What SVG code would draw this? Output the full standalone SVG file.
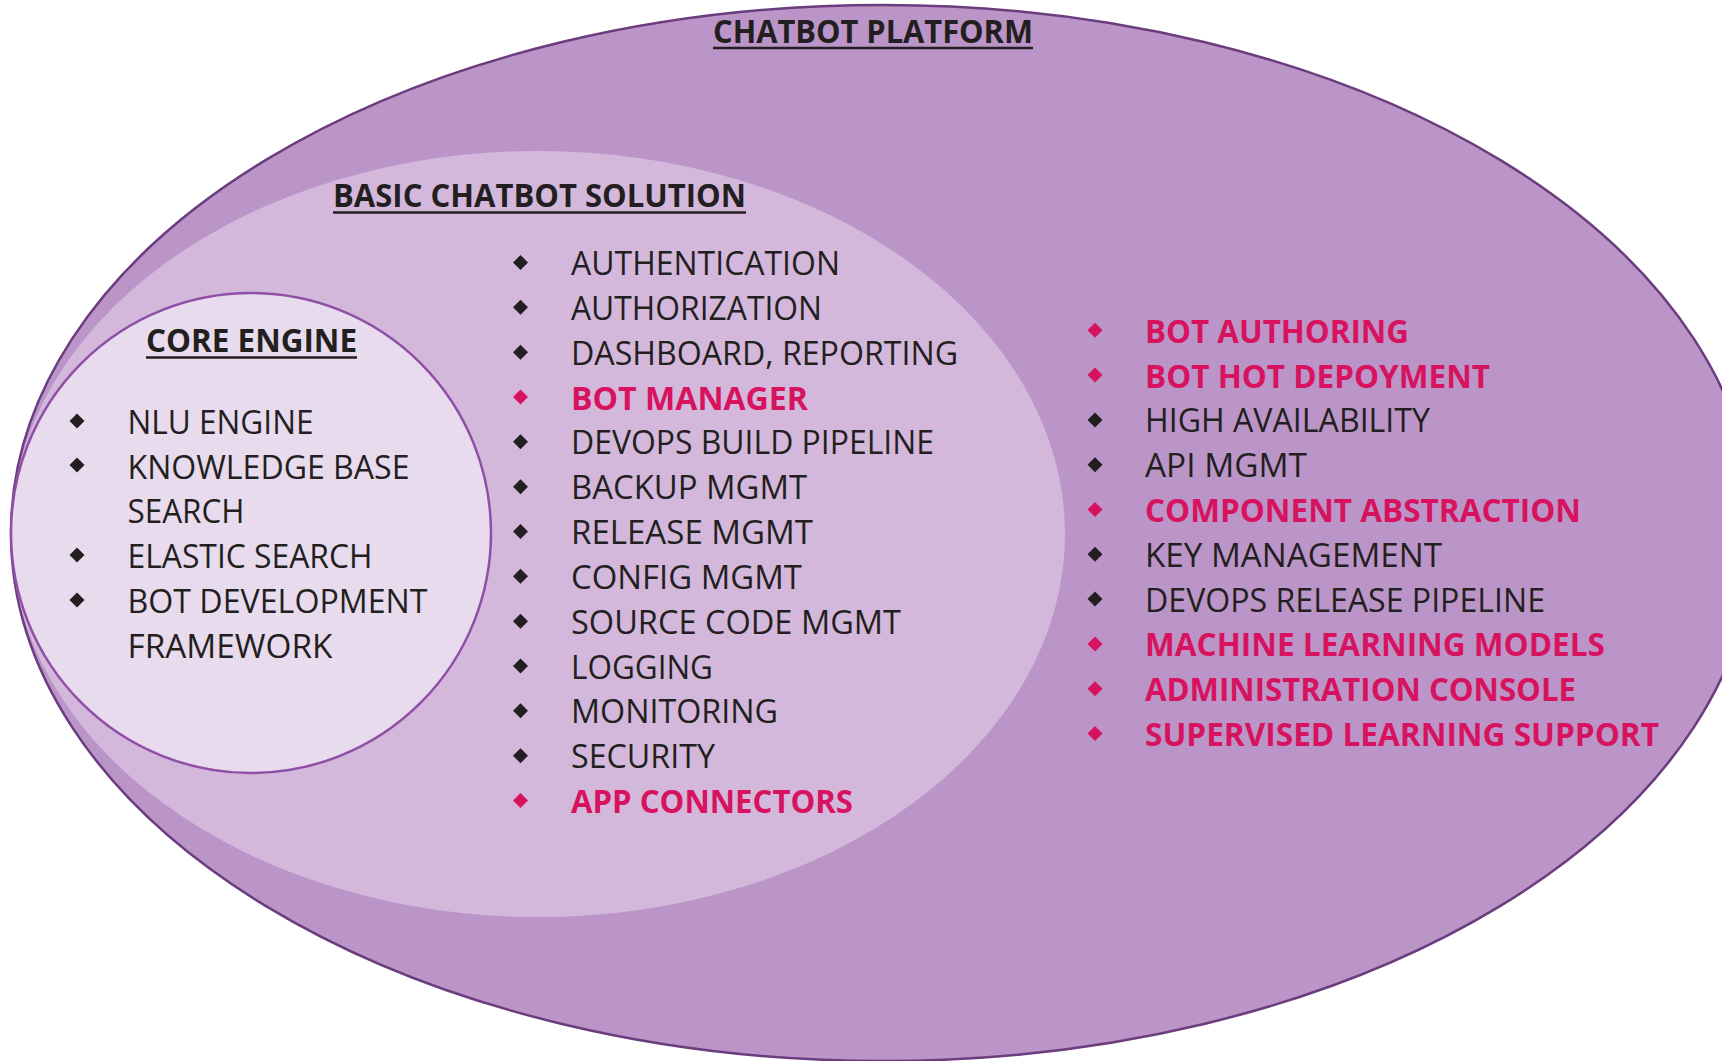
<svg xmlns="http://www.w3.org/2000/svg" xmlns:xlink="http://www.w3.org/1999/xlink" width="1722" height="1061" viewBox="0 0 1722 1061">
  <defs>
    <style>
      text { font-family: "Open Sans", "Noto Sans", "Liberation Sans", sans-serif; font-size: 32px; fill: #231F20; }
      .title { font-weight: 700; }
      .hl { font-weight: 700; fill: #D7135F; }
      .ul { stroke: #231F20; stroke-width: 2.5; }
      .dot { fill: #231F20; }
      .dot-hl { fill: #D7135F; }
    </style>
    <path id="bullet" d="M0,-7.5 L7.5,0 L0,7.5 L-7.5,0 Z"/>
  </defs>

  <rect width="1722" height="1061" fill="#FFFFFF"/>

  <!-- Outer layer: platform -->
  <g id="chatbot-platform">
    <ellipse cx="883" cy="533" rx="872" ry="528" fill="#BB95C8" stroke="#6B3C7E" stroke-width="2.5"/>
    <text class="title" x="713" y="43" textLength="320" lengthAdjust="spacingAndGlyphs">CHATBOT PLATFORM</text>
    <line class="ul" x1="713" y1="48" x2="1033" y2="48"/>
    <g id="platform-items">
      <use href="#bullet" class="dot-hl" x="1095" y="330.3"/>
      <text class="hl" x="1145" y="342.8" textLength="264" lengthAdjust="spacingAndGlyphs">BOT AUTHORING</text>
      <use href="#bullet" class="dot-hl" x="1095" y="375.1"/>
      <text class="hl" x="1145" y="387.6" textLength="345" lengthAdjust="spacingAndGlyphs">BOT HOT DEPOYMENT</text>
      <use href="#bullet" class="dot" x="1095" y="419.9"/>
      <text x="1145" y="432.4" textLength="285" lengthAdjust="spacingAndGlyphs">HIGH AVAILABILITY</text>
      <use href="#bullet" class="dot" x="1095" y="464.7"/>
      <text x="1145" y="477.2" textLength="162" lengthAdjust="spacingAndGlyphs">API MGMT</text>
      <use href="#bullet" class="dot-hl" x="1095" y="509.5"/>
      <text class="hl" x="1145" y="522" textLength="436" lengthAdjust="spacingAndGlyphs">COMPONENT ABSTRACTION</text>
      <use href="#bullet" class="dot" x="1095" y="554.3"/>
      <text x="1145" y="566.8" textLength="297" lengthAdjust="spacingAndGlyphs">KEY MANAGEMENT</text>
      <use href="#bullet" class="dot" x="1095" y="599.1"/>
      <text x="1145" y="611.6" textLength="400" lengthAdjust="spacingAndGlyphs">DEVOPS RELEASE PIPELINE</text>
      <use href="#bullet" class="dot-hl" x="1095" y="643.9"/>
      <text class="hl" x="1145" y="656.4" textLength="460" lengthAdjust="spacingAndGlyphs">MACHINE LEARNING MODELS</text>
      <use href="#bullet" class="dot-hl" x="1095" y="688.7"/>
      <text class="hl" x="1145" y="701.2" textLength="431" lengthAdjust="spacingAndGlyphs">ADMINISTRATION CONSOLE</text>
      <use href="#bullet" class="dot-hl" x="1095" y="733.5"/>
      <text class="hl" x="1145" y="746" textLength="514" lengthAdjust="spacingAndGlyphs">SUPERVISED LEARNING SUPPORT</text>
    </g>
  </g>

  <!-- Middle layer: basic solution -->
  <g id="basic-chatbot-solution">
    <ellipse cx="538" cy="534" rx="527" ry="383" fill="#D3B8DC"/>
    <text class="title" x="333" y="206.5" textLength="413" lengthAdjust="spacingAndGlyphs">BASIC CHATBOT SOLUTION</text>
    <line class="ul" x1="333" y1="212.5" x2="746" y2="212.5"/>
    <g id="solution-items">
      <use href="#bullet" class="dot" x="520.5" y="262.5"/>
      <text x="571" y="275" textLength="269" lengthAdjust="spacingAndGlyphs">AUTHENTICATION</text>
      <use href="#bullet" class="dot" x="520.5" y="307.3"/>
      <text x="571" y="319.8" textLength="251" lengthAdjust="spacingAndGlyphs">AUTHORIZATION</text>
      <use href="#bullet" class="dot" x="520.5" y="352.2"/>
      <text x="571" y="364.7" textLength="387" lengthAdjust="spacingAndGlyphs">DASHBOARD, REPORTING</text>
      <use href="#bullet" class="dot-hl" x="520.5" y="397"/>
      <text class="hl" x="571" y="409.5" textLength="237" lengthAdjust="spacingAndGlyphs">BOT MANAGER</text>
      <use href="#bullet" class="dot" x="520.5" y="441.8"/>
      <text x="571" y="454.3" textLength="363" lengthAdjust="spacingAndGlyphs">DEVOPS BUILD PIPELINE</text>
      <use href="#bullet" class="dot" x="520.5" y="486.7"/>
      <text x="571" y="499.2" textLength="236" lengthAdjust="spacingAndGlyphs">BACKUP MGMT</text>
      <use href="#bullet" class="dot" x="520.5" y="531.5"/>
      <text x="571" y="544" textLength="242" lengthAdjust="spacingAndGlyphs">RELEASE MGMT</text>
      <use href="#bullet" class="dot" x="520.5" y="576.3"/>
      <text x="571" y="588.8" textLength="231" lengthAdjust="spacingAndGlyphs">CONFIG MGMT</text>
      <use href="#bullet" class="dot" x="520.5" y="621.2"/>
      <text x="571" y="633.7" textLength="330" lengthAdjust="spacingAndGlyphs">SOURCE CODE MGMT</text>
      <use href="#bullet" class="dot" x="520.5" y="666"/>
      <text x="571" y="678.5" textLength="142" lengthAdjust="spacingAndGlyphs">LOGGING</text>
      <use href="#bullet" class="dot" x="520.5" y="710.8"/>
      <text x="571" y="723.3" textLength="207" lengthAdjust="spacingAndGlyphs">MONITORING</text>
      <use href="#bullet" class="dot" x="520.5" y="755.7"/>
      <text x="571" y="768.2" textLength="144" lengthAdjust="spacingAndGlyphs">SECURITY</text>
      <use href="#bullet" class="dot-hl" x="520.5" y="800.5"/>
      <text class="hl" x="571" y="813" textLength="282" lengthAdjust="spacingAndGlyphs">APP CONNECTORS</text>
    </g>
  </g>

  <!-- Inner layer: core engine -->
  <g id="core-engine">
    <circle cx="251" cy="533" r="240" fill="#E8DBED" stroke="#8E4FA5" stroke-width="2.5"/>
    <text class="title" x="146" y="352" textLength="211" lengthAdjust="spacingAndGlyphs">CORE ENGINE</text>
    <line class="ul" x1="146" y1="357.5" x2="357" y2="357.5"/>
    <g id="core-items">
      <use href="#bullet" class="dot" x="77" y="421"/>
      <text x="127.5" y="434" textLength="186" lengthAdjust="spacingAndGlyphs">NLU ENGINE</text>
      <use href="#bullet" class="dot" x="77" y="465"/>
      <text x="127.5" y="478.5" textLength="282" lengthAdjust="spacingAndGlyphs">KNOWLEDGE BASE</text>
      <text x="127.5" y="523" textLength="117" lengthAdjust="spacingAndGlyphs">SEARCH</text>
      <use href="#bullet" class="dot" x="77" y="555"/>
      <text x="127.5" y="567.5" textLength="245" lengthAdjust="spacingAndGlyphs">ELASTIC SEARCH</text>
      <use href="#bullet" class="dot" x="77" y="600"/>
      <text x="127.5" y="612.5" textLength="300" lengthAdjust="spacingAndGlyphs">BOT DEVELOPMENT</text>
      <text x="127.5" y="658" textLength="205" lengthAdjust="spacingAndGlyphs">FRAMEWORK</text>
    </g>
  </g>
</svg>
